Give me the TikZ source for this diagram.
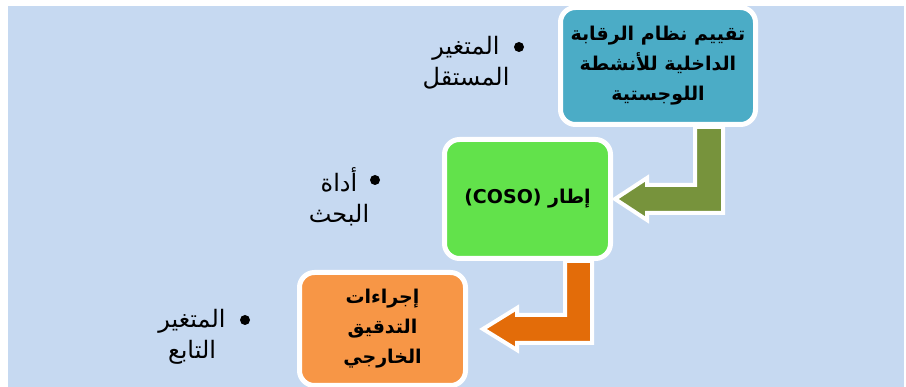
\documentclass[tikz,border=0pt]{standalone}
\usepackage{fontspec}
\usepackage{tikz}
\usetikzlibrary{calc}
\newfontfamily\arabicfont[Script=Arabic]{DejaVu Sans}
\TeXXeTstate=1

\definecolor{bgblue}{HTML}{C6D9F1}
\definecolor{stageteal}{HTML}{4BACC6}
\definecolor{stagegreen}{HTML}{62E24B}
\definecolor{stageorange}{HTML}{F79646}
\definecolor{arrowolive}{HTML}{77933C}
\definecolor{arrowrust}{HTML}{E36C09}

\tikzset{
    stagebox/.style={draw=white, line width=5, rounded corners=15, inner sep=0, align=center,
        font=\arabicfont\bfseries\fontsize{19}{30}\selectfont},
    varlabel/.style={inner sep=0, align=center, font=\arabicfont\fontsize{24}{31}\selectfont},
    bulletdot/.style={circle, fill=black, inner sep=0, minimum size=10},
    bentarrow/.style={draw=white, line width=4, line join=miter},
}

\begin{document}
\begin{tikzpicture}[x=1pt, y=-1pt]
    \useasboundingbox (0,0) rectangle (906,387);
    \coordinate (S1) at (658,66);
    \coordinate (S2) at (527.5,199);
    \coordinate (S3) at (382.5,329);

    % Background
    \fill[bgblue] (8,6) rectangle (904,387);

    % Stages
    \node[stagebox, fill=stageteal, minimum width=195, minimum height=117] (eval) at (S1)
        {\beginR تقييم نظام الرقابة\endR\\ \beginR الداخلية للأنشطة\endR\\ \beginR اللوجستية\endR};
    \node[stagebox, fill=stagegreen, minimum width=166, minimum height=119] (coso) at (S2)
        {(COSO) \beginR إطار\endR};
    \node[stagebox, fill=stageorange, minimum width=166, minimum height=113] (audit) at (S3)
        {\beginR إجراءات\endR\\ \beginR التدقيق\endR\\ \beginR الخارجي\endR};

    % Arrow #1
    \coordinate (T1) at ($(coso.east)+(2,0)$);
    \coordinate (V1) at ($(T1)+(80,0)$);
    \coordinate (W1) at ($(T1)+(108,0)$);
    \draw[bentarrow, fill=arrowolive] (T1) -- ++(32,-21) -- ++(0,7) -- ($(V1)+(0,-14)$)
        -- (V1 |- eval.south) -- (W1 |- eval.south) -- ($(W1)+(0,14)$) -- ++(-76,0) -- ++(0,7) -- cycle;

    % Arrow #2
    \coordinate (T2) at ($(audit.east)+(15,0)$);
    \coordinate (V2) at ($(T2)+(82,0)$);
    \coordinate (W2) at ($(T2)+(109,0)$);
    \draw[bentarrow, fill=arrowrust] (T2) -- ++(34,-21) -- ++(0,7) -- ($(V2)+(0,-14)$)
        -- (V2 |- coso.south) -- (W2 |- coso.south) -- ($(W2)+(0,14)$) -- ++(-75,0) -- ++(0,7) -- cycle;

    % Variables
    \node[bulletdot] (dot1) at (519,47) {};
    \node[varlabel] (indep) at (466,63) {\beginR المتغير\endR\\ \beginR المستقل\endR};
    \node[bulletdot] (dot2) at (375,180) {};
    \node[varlabel] (tool) at (339,197) {\beginR أداة\endR\\ \beginR البحث\endR};
    \node[bulletdot] (dot3) at (245,320) {};
    \node[varlabel] (dep) at (192,337) {\beginR المتغير\endR\\ \beginR التابع\endR};
\end{tikzpicture}
\end{document}
